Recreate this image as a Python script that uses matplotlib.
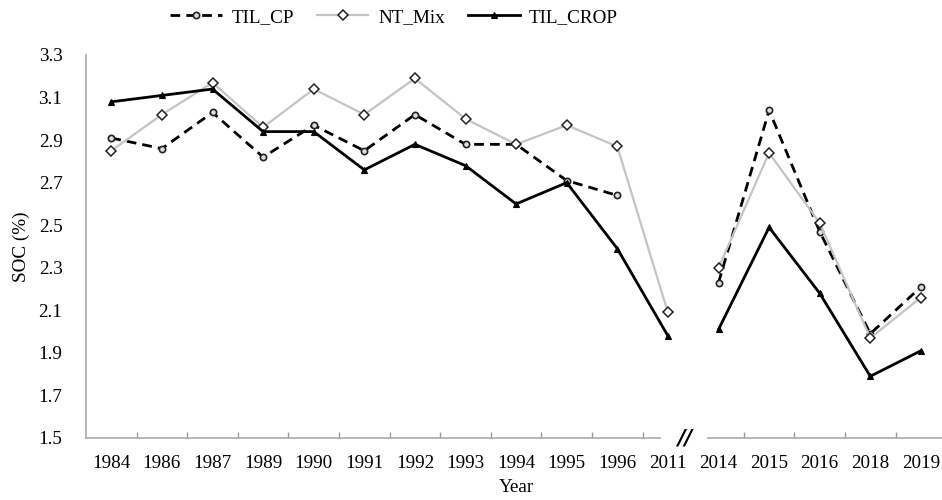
import numpy as np
import matplotlib
matplotlib.use("Agg")
import matplotlib.pyplot as plt
import matplotlib.transforms as mtransforms
from matplotlib.lines import Line2D

years = ["1984", "1986", "1987", "1989", "1990", "1991", "1992", "1993", "1994",
         "1995", "1996", "2011", "2014", "2015", "2016", "2018", "2019"]
til_cp = [2.91, 2.86, 3.03, 2.82, 2.97, 2.85, 3.02, 2.88, 2.88, 2.71, 2.64, np.nan,
          2.23, 3.04, 2.47, 1.99, 2.21]
nt_mix = [2.85, 3.02, 3.17, 2.96, 3.14, 3.02, 3.19, 3.00, 2.88, 2.97, 2.87, 2.09,
          2.30, 2.84, 2.51, 1.97, 2.16]
til_crop = [3.08, 3.11, 3.14, 2.94, 2.94, 2.76, 2.88, 2.78, 2.60, 2.70, 2.39, 1.98,
            2.01, 2.49, 2.18, 1.79, 1.91]
yticks = [1.5, 1.7, 1.9, 2.1, 2.3, 2.5, 2.7, 2.9, 3.1, 3.3]
break_after = 11  # lines break between 2011 and 2014

plt.rcParams['font.family'] = ['Liberation Serif', 'DejaVu Serif']
fs = 13.8

fig = plt.figure(figsize=(9.42, 5.0), dpi=100)
ax = fig.add_axes([86/942, 62/500, 50.6*17/942, 383/500])

x = np.arange(len(years))
styles = [
    (til_cp, dict(color='black', ls=(0, (3.5, 2.2)), lw=2.0, marker='o', ms=4.5,
                  mfc='#dddddd', mec='#222222', mew=1.2)),
    (nt_mix, dict(color='#c4c4c4', ls='-', lw=1.6, marker='D', ms=5.5,
                  mfc='white', mec='#222222', mew=1.1)),
    (til_crop, dict(color='black', ls='-', lw=2.0, marker='^', ms=5,
                    mfc='black', mec='black', mew=0.8)),
]
for vals, st in styles:
    v = np.array(vals, dtype=float)
    seg1 = slice(0, break_after + 1)
    seg2 = slice(break_after + 1, len(years))
    ax.plot(x[seg1], v[seg1], clip_on=False, **st)
    ax.plot(x[seg2], v[seg2], clip_on=False, **st)

ax.set_xlim(-0.5, len(years) - 0.5)
ax.set_ylim(1.5, 3.3)
ax.set_yticks(yticks)
ax.set_yticklabels([f"{t:.1f}" for t in yticks], fontsize=fs)
ax.set_xticks(x)
ax.set_xticklabels(years, fontsize=fs)
ax.tick_params(axis='x', which='major', length=0, pad=12)
ax.tick_params(axis='y', length=0, pad=17)

bnd = [b + 0.5 for b in range(len(years) - 1) if b != break_after]
ax.set_xticks(bnd, minor=True)
ax.tick_params(axis='x', which='minor', direction='in', length=4, color='#999999', width=1)

for s in ['top', 'right', 'bottom']:
    ax.spines[s].set_visible(False)
ax.spines['left'].set_color('#aaaaaa')
ax.spines['left'].set_linewidth(1.2)

trans = mtransforms.blended_transform_factory(ax.transData, ax.transAxes)
ax.plot([-0.5, 10.85], [0, 0], color='#aaaaaa', lw=1.2, transform=trans, clip_on=False)
ax.plot([11.8, 16.5], [0, 0], color='#aaaaaa', lw=1.2, transform=trans, clip_on=False)
ax.text(11.33, 0.0, "//", transform=trans, ha='center', va='center', fontsize=15,
        style='italic', fontweight='bold', family='DejaVu Sans')

ax.set_ylabel("SOC (%)", fontsize=fs, labelpad=6)
ax.set_xlabel("Year", fontsize=fs, labelpad=5)

handles = [Line2D([], [], **st) for _, st in styles]
fig.legend(handles, ["TIL_CP", "NT_Mix", "TIL_CROP"], loc='center',
           bbox_to_anchor=(394/942, 1 - 17/500), ncol=3, frameon=False,
           fontsize=fs, handlelength=2.7, columnspacing=1.2, handletextpad=0.5)

fig.savefig("out.png", dpi=100)
